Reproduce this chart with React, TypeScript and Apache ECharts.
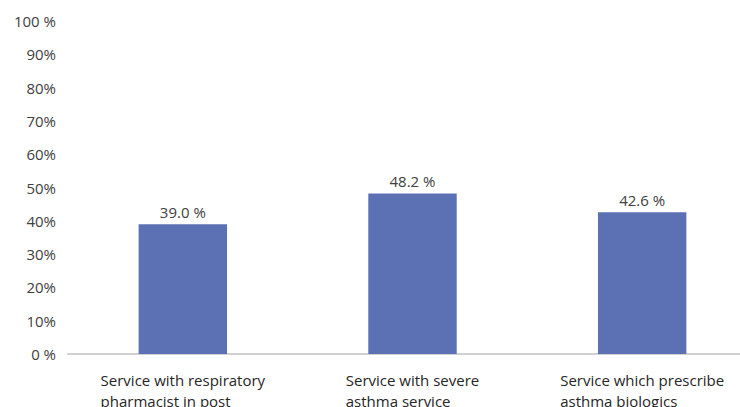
import React, { useEffect, useRef } from "react";
import * as echarts from "echarts";

// Share of services (%)
const categories: string[][] = [
  ["Service with respiratory", "pharmacist in post"],
  ["Service with severe", "asthma service"],
  ["Service which prescribe", "asthma biologics"],
];
const values: number[] = [39.0, 48.2, 42.6];
const yTickLabels: Record<number, string> = {
  0: "0 %",
  10: "10%",
  20: "20%",
  30: "30%",
  40: "40%",
  50: "50%",
  60: "60%",
  70: "70%",
  80: "80%",
  90: "90%",
  100: "100 %",
};

const FONT = "'Open Sans', 'Noto Sans', sans-serif";

export default function App() {
  const ref = useRef<HTMLDivElement>(null);

  useEffect(() => {
    if (!ref.current) return;
    const chart = echarts.init(ref.current, undefined, { renderer: "svg" });
    chart.setOption({
      animation: false,
      grid: {
        left: 68,
        right: -17,
        top: 21,
        bottom: 53,
        containLabel: false,
        outerBoundsMode: "none",
      },
      xAxis: {
        type: "category",
        data: categories.map((lines) => lines.join("\n")),
        axisLine: { show: true, lineStyle: { color: "#d0d0d0", width: 2 } },
        axisTick: { show: false },
        axisLabel: {
          interval: 0,
          margin: 15,
          align: "center",
          formatter: (v: string) =>
            v
              .split("\n")
              .map((l) => `{l|${l}}`)
              .join("\n"),
          rich: {
            l: {
              align: "left",
              fontFamily: FONT,
              fontSize: 15,
              color: "#262626",
              lineHeight: 21,
            },
          },
        },
      },
      yAxis: {
        type: "value",
        min: 0,
        max: 100,
        interval: 10,
        splitLine: { show: false },
        axisLine: { show: false },
        axisTick: { show: false },
        axisLabel: {
          margin: 12,
          fontFamily: FONT,
          fontSize: 15,
          color: "#404040",
          formatter: (v: number) => yTickLabels[v] ?? `${v}%`,
        },
      },
      series: [
        {
          type: "bar",
          data: values,
          barWidth: "38.5%",
          itemStyle: { color: "#5b71b4" },
          label: {
            show: true,
            position: "top",
            distance: 5,
            fontFamily: FONT,
            fontSize: 15,
            color: "#404040",
            formatter: (p: any) => `${Number(p.value).toFixed(1)} %`,
          },
        },
      ],
    });
    return () => chart.dispose();
  }, []);

  return <div ref={ref} style={{ width: 740, height: 407, position: "absolute", left: 0, top: 0 }} />;
}
